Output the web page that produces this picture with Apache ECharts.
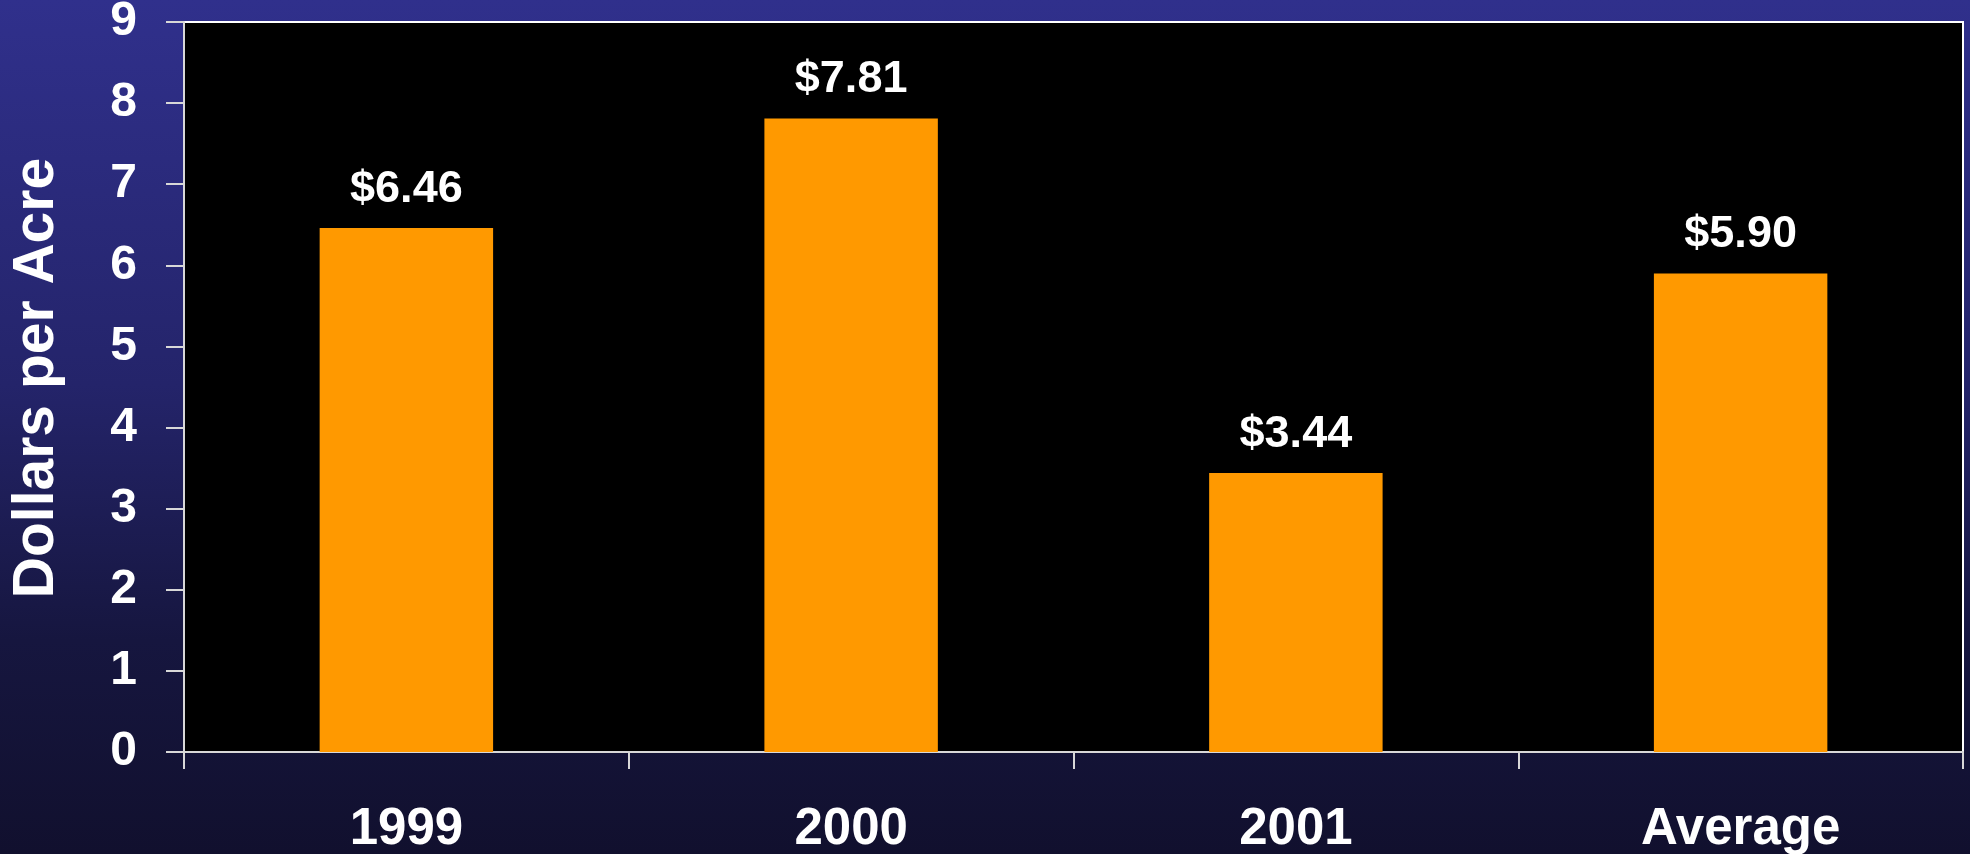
<!DOCTYPE html>
<html>
<head>
<meta charset="utf-8">
<style>
html,body{margin:0;padding:0;width:1970px;height:854px;overflow:hidden;background:#1a1a4a;}
#chart{width:1970px;height:854px;}
</style>
<script src="https://cdn.jsdelivr.net/npm/echarts@6/dist/echarts.min.js"></script>
</head>
<body>
<div id="chart"></div>
<script>
const categories = ['1999', '2000', '2001', 'Average'];
const values = [6.46, 7.81, 3.44, 5.90];
const yTicks = [0, 1, 2, 3, 4, 5, 6, 7, 8, 9];

const FONT = '"Liberation Sans", Arial, sans-serif';
const chart = echarts.init(document.getElementById('chart'));
chart.setOption({
  animation: false,
  backgroundColor: {
    type: 'linear', x: 0, y: 0, x2: 0, y2: 1,
    colorStops: [
      {offset: 0, color: '#30308c'},
      {offset: 0.45, color: '#24246a'},
      {offset: 0.75, color: '#16163f'},
      {offset: 1, color: '#11102e'}
    ]
  },
  grid: {
    left: 184, top: 22, right: 7, bottom: 102,
    containLabel: false,
    outerBoundsMode: 'none',
    show: true, backgroundColor: '#000000', borderColor: '#ffffff', borderWidth: 2
  },
  xAxis: {
    type: 'category',
    data: categories,
    axisLine: {show: true, lineStyle: {color: '#d8d8d8', width: 2}},
    axisTick: {show: true, length: 17, lineStyle: {color: '#d8d8d8', width: 2}},
    axisLabel: {color: '#ffffff', fontFamily: FONT, fontWeight: 'bold', fontSize: 51, margin: 52}
  },
  yAxis: {
    type: 'value',
    min: yTicks[0], max: yTicks[yTicks.length - 1], interval: 1,
    name: 'Dollars per Acre',
    nameLocation: 'middle',
    nameGap: 118,
    nameRotate: 90,
    nameTextStyle: {color: '#ffffff', fontFamily: FONT, fontWeight: 'bold', fontSize: 57, padding: [0, 0, 0, 18]},
    axisLine: {show: true, lineStyle: {color: '#d8d8d8', width: 2}},
    axisTick: {show: true, length: 18, lineStyle: {color: '#d8d8d8', width: 2}},
    splitLine: {show: false},
    axisLabel: {color: '#ffffff', fontFamily: FONT, fontWeight: 'bold', fontSize: 48, margin: 47}
  },
  series: [{
    type: 'bar',
    data: values,
    barWidth: '39%',
    itemStyle: {color: '#ff9900'},
    label: {
      show: true, position: 'top', distance: 16,
      color: '#ffffff', fontFamily: FONT, fontWeight: 'bold', fontSize: 45,
      formatter: p => '$' + p.value.toFixed(2)
    }
  }]
});
</script>
</body>
</html>
